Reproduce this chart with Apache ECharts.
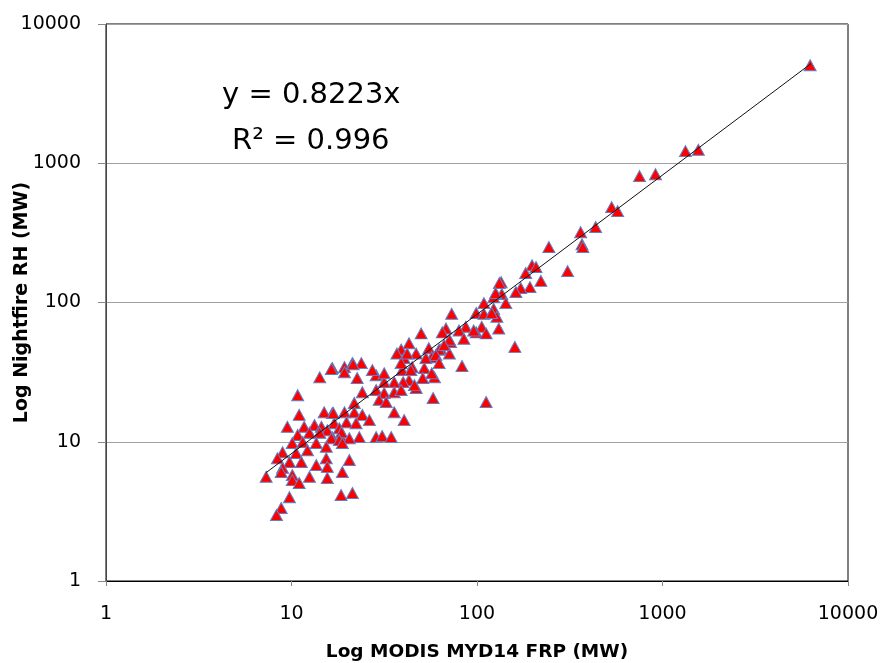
<!DOCTYPE html>
<html>
<head>
<meta charset="utf-8">
<script src="https://cdn.jsdelivr.net/npm/echarts@6/dist/echarts.min.js"></script>
<style>
html,body{margin:0;padding:0;background:#fff;}
#chart{width:882px;height:663px;}
</style>
</head>
<body>
<div id="chart"></div>
<script>
// MODIS MYD14 FRP (MW) values
const frpX = [
6250,1330,1560,752,917,532,573,362,436,368,372,244,308,198,208,183,221,135,132,193,
172,162,136,123,143,109,123,99,73,109,128,68,87,106,131,80,99,112,72,85,
160,64,71,83,112,126,120,96,71,50,65,43,55,62.5,39,47,57,40.5,44.7,52,
59,51,43,39.5,47,66.5,37,42,53,60,62.5,39,44,57,40,46,35.8,31.6,28.6,31.6,
27.3,16.6,19.3,21.3,23.8,19.3,22.6,24.1,28.6,31.6,35.8,39,29.7,32.4,35.8,40.5,58,21.8,19.3,16.6,
21.8,24.1,17,19.8,22.3,26.3,18.1,18.5,23.2,16.6,28.6,30.8,34.5,14.2,16.4,21.5,10.8,11,15,16.8,
9.5,13.3,11.7,14.5,15.6,18.6,10.8,12.5,14.2,16.4,18.1,20.5,10.1,11.5,13.6,15.4,18.8,8.95,10.6,12.2,
8.4,9.75,11.3,15.4,13.6,15.6,8.95,20.5,7.3,8.8,10.1,12.5,15.6,18.8,10.1,11,9.75,18.5,21.3,8.8,
8.3
];
// Nightfire RH (MW) values
const nightfireY = [
5060,1222,1250,808,835,484,453,320,348,262,250,250,168,185,180,163,143,140,138,129,
127,119,115,109,99,99,90,84,83,83,79,65,67,67,65,63,61,60,52,55,
48,46,43,35,19.3,117,84,63,54,60,61,51,47,46,46,43,40.5,40,34.4,33.8,
29,28.7,27.7,32.7,24.3,49.5,43,43,40,42,36.7,36.7,32.7,31,26.8,25.5,26.8,26.8,30,31,
32.7,33.8,34.4,36.7,36.7,31.6,28.7,22.7,23.5,22.4,22.7,23.5,20,19.3,16.3,14.3,20.6,19,16.3,16.1,
16.3,15.6,13.6,13.8,13.6,14.3,12.5,10.8,10.8,10.8,10.8,11,10.8,29,33.3,36,21.6,15.6,16.3,16.1,
12.8,13.2,12.8,12.8,12.1,11.7,11.2,11.6,11.6,10.6,10.3,10.6,9.8,9.95,9.8,9.2,9.8,8.4,8.3,8.7,
7.6,7.15,7.15,7.6,6.8,6.6,6.5,7.4,5.6,6.06,5.77,5.6,5.5,6.06,5.3,5.05,4.0,4.14,4.28,3.34,
2.98
];
// trend line y = slope * x over this x range
const trendSlope = 0.8223;
const trendRange = [7.3, 6300];
const axisTicks = [1, 10, 100, 1000, 10000];
const equationText = 'y = 0.8223x';
const r2Text = 'R\u00B2 = 0.996';

const scatterData = frpX.map((x, i) => [x, nightfireY[i]]);
const trendData = trendRange.map(x => [x, x * trendSlope]);

const chart = echarts.init(document.getElementById('chart'), null, {renderer: 'canvas'});
const fmt = v => String(Math.round(v));
chart.setOption({
  animation: false,
  backgroundColor: '#fff',
  grid: {left: 106, right: 34, top: 24, bottom: 82, containLabel: false, outerBoundsMode: 'none',
         show: true, borderColor: '#000', borderWidth: 1, backgroundColor: 'transparent'},
  xAxis: {
    type: 'log', logBase: 10, min: axisTicks[0], max: axisTicks[axisTicks.length - 1],
    name: 'Log MODIS MYD14 FRP (MW)', nameLocation: 'middle', nameGap: 62, nameMoveOverlap: false,
    nameTextStyle: {fontFamily: 'DejaVu Sans', fontWeight: 'bold', fontSize: 18.5, color: '#000'},
    axisLine: {show: true, lineStyle: {color: '#000', width: 1}},
    axisTick: {show: true, length: 5, inside: false, lineStyle: {color: '#888'}},
    minorTick: {show: false},
    splitLine: {show: false},
    axisLabel: {formatter: fmt, fontFamily: 'DejaVu Sans', fontSize: 19, color: '#000', margin: 24}
  },
  yAxis: {
    type: 'log', logBase: 10, min: axisTicks[0], max: axisTicks[axisTicks.length - 1],
    name: 'Log Nightfire RH (MW)', nameLocation: 'middle', nameGap: 74, nameRotate: 90, nameMoveOverlap: false,
    nameTextStyle: {fontFamily: 'DejaVu Sans', fontWeight: 'bold', fontSize: 19, color: '#000'},
    axisLine: {show: true, lineStyle: {color: '#444', width: 1}},
    axisTick: {show: true, length: 8, lineStyle: {color: '#888'}},
    splitLine: {show: true, lineStyle: {color: '#a0a0a0', width: 1}},
    axisLabel: {formatter: fmt, fontFamily: 'DejaVu Sans', fontSize: 19, color: '#000', margin: 25}
  },
  series: [
    {
      type: 'scatter', data: scatterData, symbol: 'triangle', symbolSize: [12, 11],
      itemStyle: {color: '#ff0000', borderColor: '#5b82c8', borderWidth: 1, opacity: 1},
      z: 2
    },
    {
      type: 'line', data: trendData, showSymbol: false, symbol: 'none',
      lineStyle: {color: '#111', width: 1}, z: 3, silent: true
    }
  ],
  graphic: [
    {type: 'text', left: 222, top: 81, style: {text: equationText, fontFamily: 'DejaVu Sans', fontSize: 29, fill: '#000'}},
    {type: 'text', left: 232, top: 127, style: {text: r2Text, fontFamily: 'DejaVu Sans', fontSize: 29, fill: '#000'}}
  ]
});
</script>
</body>
</html>
